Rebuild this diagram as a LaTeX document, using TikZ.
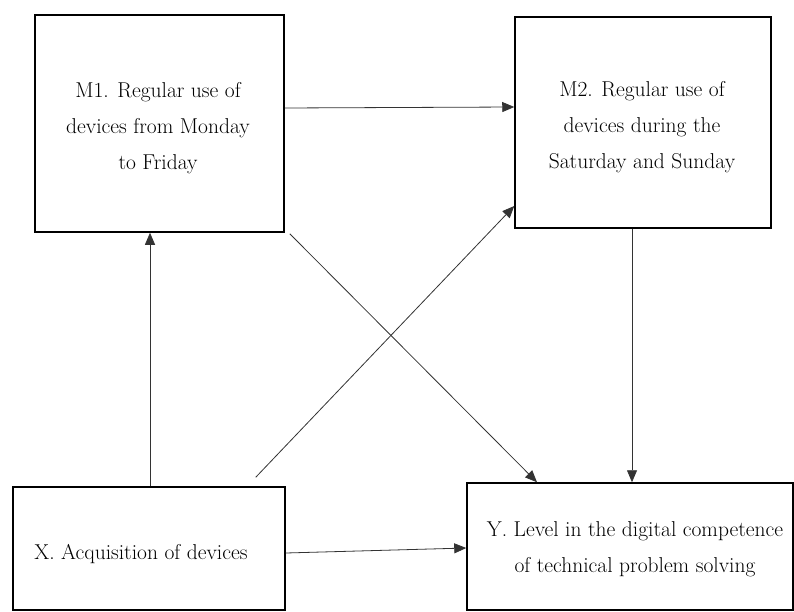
\documentclass[tikz,border=0pt]{standalone}
\usetikzlibrary{arrows.meta,calc}
\begin{document}
\begin{tikzpicture}[x=1pt,y=-1pt,
  box/.style={draw=black,line width=1.5pt,rectangle,inner sep=0pt},
  lbl/.style={align=center,font=\fontsize{21.5}{36}\selectfont,inner sep=0pt,text=black},
  conn/.style={draw=black!80,line width=0.8pt,-{Triangle[length=12pt,width=10pt]}}]
\useasboundingbox (0,0) rectangle (794,612);
% boxes
\node[box,minimum width=249pt,minimum height=217pt] (m1) at (159.5,123.5) {};
\node[box,minimum width=256pt,minimum height=211pt] (m2) at (643,122.5) {};
\node[box,minimum width=272pt,minimum height=123pt] (x) at (149,548.5) {};
\node[box,minimum width=326pt,minimum height=127pt] (y) at (630,546.5) {};
% labels
\node[lbl] (tm1) at (158,128) {M1. Regular use of\\devices from Monday\\to Friday};
\node[lbl] (tm2) at (642,127) {M2. Regular use of\\devices during the\\Saturday and Sunday};
\node[lbl] (tx) at (141,554) {X. Acquisition of devices};
\node[lbl] (ty) at (635,549) {Y. Level in the digital competence\\of technical problem solving};
% connectors
\draw[conn] ([yshift=15.5pt]m1.east) -- ([yshift=15.5pt]m2.west);
\draw[conn] ([xshift=1pt]x.north) -- ([xshift=1pt]x.north |- m1.south);
\draw[conn] ([shift={(-30pt,9pt)}]x.north east) -- ([yshift=-83.5pt]m2.west);
\draw[conn] ([shift={(5pt,-1pt)}]m1.south east) -- ([xshift=-93pt]y.north);
\draw[conn] ([xshift=-11pt]m2.south) -- ([xshift=-11pt]m2.south |- y.north);
\draw[conn] ([yshift=-4.5pt]x.east) -- ([yshift=-1.5pt]y.west);
\end{tikzpicture}
\end{document}
